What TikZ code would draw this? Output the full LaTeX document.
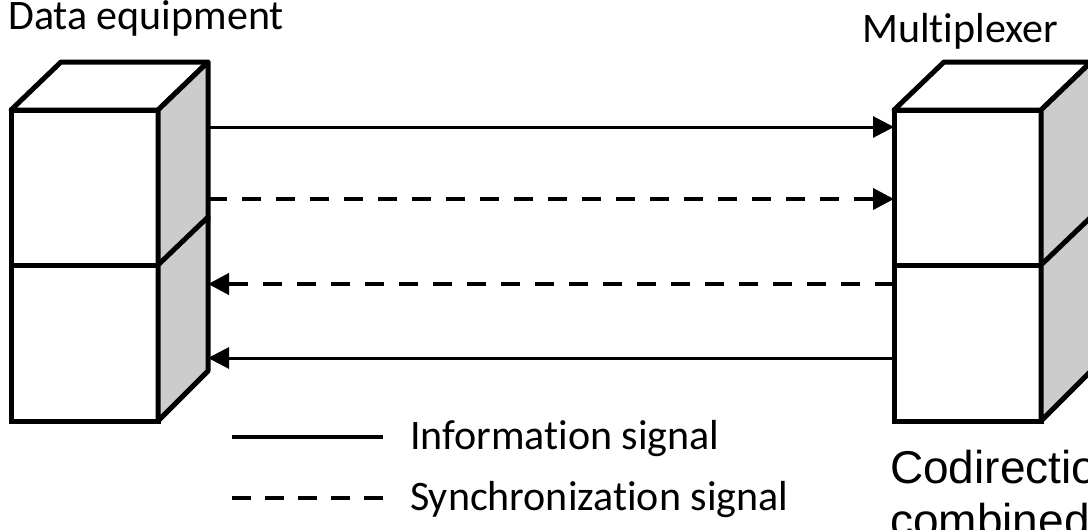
\documentclass[tikz,border=0pt]{standalone}
\usepackage{fontspec}
\setmainfont[Ligatures=NoCommon]{Carlito}
\newfontfamily\arialfont{Liberation Sans}
\usetikzlibrary{arrows.meta,positioning,calc}
\definecolor{sidegray}{HTML}{CCCCCC}

\begin{document}
\begin{tikzpicture}[
    x=1pt, y=-1pt,
    font=\fontsize{42}{50}\selectfont,
    face/.style={draw, line width=5pt, fill=white, minimum width=147pt, minimum height=156pt, inner sep=0pt, outer sep=0pt},
    sideface/.style={draw, line width=5pt, line join=round, fill=sidegray},
    topface/.style={draw, line width=5pt, line join=round, fill=white},
    info/.style={line width=3pt, -{Triangle[length=21pt, width=21pt]}},
    sync/.style={info, line width=4pt, dash pattern=on 19pt off 15pt},
    lbl/.style={inner sep=0pt, anchor=base west}
  ]
    \useasboundingbox (0,0) rectangle (1088,530);
    \clip (0,0) rectangle (1088,530);
    % two stacked cubes for each end
    \foreach \cx/\nm in {0/d, 883/m} {
      \node[face] (\nm-up) at (84.5+\cx,188) {};
      \node[face] (\nm-low) at (84.5+\cx,343) {};
      \draw[topface] (\nm-up.north west) -- ++(50,-48) -- ++(147,0) -- (\nm-up.north east) -- cycle;
      \draw[sideface] (\nm-up.north east) -- ++(50,-48) -- ++(0,156) -- (\nm-up.south east) -- cycle;
      \draw[sideface] (\nm-low.north east) -- ++(50,-48) -- ++(0,154) -- (\nm-low.south east) -- cycle;
    }
    \node[lbl] (dlbl) at (8,30) {Data equipment};
    \node[lbl] (mlbl) at (862,42) {Multiplexer};
    % signals
    \draw[info] ([shift={(50,17)}]d-up.north east) -- ([shift={(0,17)}]m-up.north west);
    \draw[sync] ([shift={(50,89)}]d-up.north east) -- ([shift={(0,89)}]m-up.north west);
    \draw[sync] ([shift={(0,19)}]m-low.north west) -- ([shift={(50,19)}]d-low.north east);
    \draw[info] ([shift={(0,93)}]m-low.north west) -- ([shift={(50,93)}]d-low.north east);
    % legend
    \node[lbl] (infolbl) at (410,449) {Information signal};
    \node[lbl] (synclbl) at (410,510) {Synchronization signal};
    \draw[line width=4pt] ($(infolbl.west)+(-178,-1)$) -- ++(151,0);
    \draw[line width=4pt, dash pattern=on 19pt off 14pt] ($(synclbl.west)+(-178,-1)$) -- ++(151,0);
    \node[lbl, font=\arialfont\fontsize{46}{53}\selectfont, align=left] (note) at (890,536) {Codirectional\\combined};
\end{tikzpicture}
\end{document}
